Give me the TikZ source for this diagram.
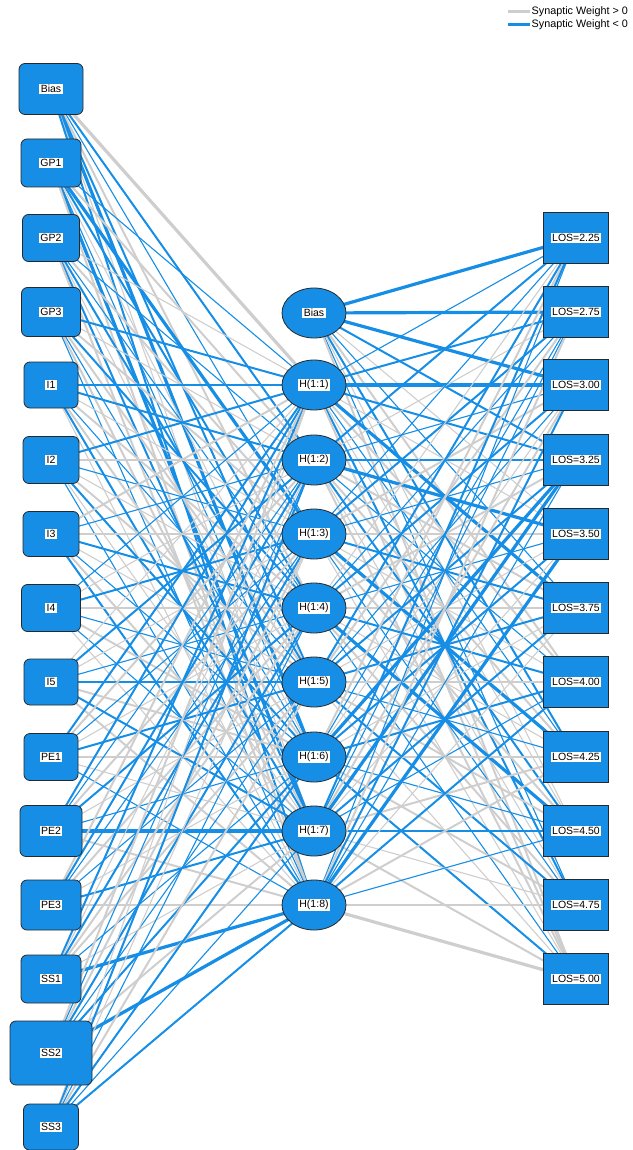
\documentclass[tikz,border=0pt]{standalone}
\usepackage{fontspec}
\setmainfont{Liberation Sans}
\usetikzlibrary{backgrounds,shapes.geometric}
\definecolor{nblue}{RGB}{22,142,230}
\definecolor{pgray}{RGB}{206,206,206}
\definecolor{edgegray}{RGB}{40,40,40}
\newcommand\lab[1]{{\setlength{\fboxsep}{1.3pt}\colorbox{white}{#1}}}
\begin{document}
\begin{tikzpicture}[x=1pt,y=-1pt,
  font=\fontsize{10.5}{12}\selectfont,
  inbox/.style={draw=edgegray,line width=0.8pt,fill=nblue,rounded corners=6pt,inner sep=0pt},
  hidnode/.style={ellipse,draw=edgegray,line width=0.8pt,fill=nblue,minimum width=64pt,minimum height=50pt,inner sep=0pt},
  outbox/.style={draw=edgegray,line width=0.8pt,fill=nblue,minimum width=65pt,minimum height=51pt,inner sep=0pt},
  g1/.style={draw=pgray,line width=1.1pt},
  g2/.style={draw=pgray,line width=2.0pt},
  g3/.style={draw=pgray,line width=3.2pt},
  b1/.style={draw=nblue,line width=1.1pt},
  b2/.style={draw=nblue,line width=2.0pt},
  b3/.style={draw=nblue,line width=3.2pt},
  legline/.style={line width=3pt}]
\useasboundingbox (0,0) rectangle (632,1150);
% input layer
\foreach \n/\t/\y/\w/\h in {0/Bias/89/64/51, 1/GP1/163/60/48, 2/GP2/238/57/47, 3/GP3/312/59/49,
  4/I1/385/54/46, 5/I2/460/56/47, 6/I3/534/56/45, 7/I4/608/59/47, 8/I5/682/54/46,
  9/PE1/757/54/47, 10/PE2/831/62/51, 11/PE3/905/60/50, 12/SS1/979/60/48,
  13/SS2/1053/82/64, 14/SS3/1127/55/46}
  \node[inbox,minimum width=\w pt,minimum height=\h pt] (i\n) at (51,\y) {\lab{\t}};
% hidden layer
\foreach \n/\t/\y in {0/Bias/313, 1/H(1:1)/385, 2/H(1:2)/460, 3/H(1:3)/534, 4/H(1:4)/608,
  5/H(1:5)/682, 6/H(1:6)/757, 7/H(1:7)/831, 8/H(1:8)/905}
  \node[hidnode] (h\n) at (314,\y) {\lab{\t}};
% output layer
\foreach \n/\t/\y in {1/2.25/238, 2/2.75/312, 3/3.00/385, 4/3.25/460, 5/3.50/534, 6/3.75/608,
  7/4.00/682, 8/4.25/757, 9/4.50/831, 10/4.75/905, 11/5.00/979}
  \node[outbox] (o\n) at (576,\y) {\lab{LOS=\t}};
% connections
\begin{pgfonlayer}{background}
\foreach \i/\row in {
  0/{g3,b2,b1,g2,b2,b3,g1,b2},
  1/{b1,g2,b3,b2,g1,b1,b3,g2},
  2/{g1,b1,g2,b1,b2,g1,b2,g2},
  3/{b2,g1,g2,b2,g2,b1,g2,b1},
  4/{b1,b2,g1,g2,b1,g2,b2,g1},
  5/{b2,g2,b1,g1,g2,b2,g1,b1},
  6/{g2,b1,g2,b2,g1,b1,g2,b2},
  7/{b1,g1,b2,g2,b1,g2,b1,g1},
  8/{g1,b2,g1,b1,b1,g2,b2,g2},
  9/{b2,g2,b1,g1,b2,g2,g1,b1},
  10/{b2,b1,g2,b2,g1,b1,b3,g2},
  11/{g2,b2,b1,g2,b1,g1,b2,g1},
  12/{b2,g1,b2,g2,g2,b1,g1,b3},
  13/{g2,b1,g2,b2,b1,b2,g2,b3},
  14/{g1,b2,g1,b1,g2,b2,b1,b2}}
  {\foreach \c [count=\j] in \row {\draw[\c] (i\i.center) -- (h\j.center);}}
\foreach \k/\row in {
  0/{b3,b3,b3,b2,g1,b1,g2,b2,g1,b1,g2},
  1/{b1,b2,b3,b2,g1,b3,g2,b1,g1,b2,g2},
  2/{b2,g1,b1,b2,b3,g2,b1,g2,b2,g1,g2},
  3/{b1,b2,g2,b1,g2,b2,g1,b3,g2,b1,g1},
  4/{g1,b1,b2,g2,b1,g2,b2,g1,b3,g2,b1},
  5/{b2,g2,b1,b2,g1,b2,g2,b1,g2,b2,g1},
  6/{g2,b1,g1,b3,b2,g1,b2,g2,b1,g2,b2},
  7/{b2,b1,g2,b3,g1,b2,b1,g2,b1,g1,g2},
  8/{b1,g2,b2,b1,b3,g1,b2,g2,b1,g1,g3}}
  {\foreach \c [count=\j] in \row {\draw[\c] (h\k.center) -- (o\j.center);}}
\end{pgfonlayer}
% legend
\coordinate (la) at (508,12);
\coordinate (lb) at (530,12);
\coordinate (lc) at (508,25);
\coordinate (ld) at (530,25);
\draw[legline,pgray] (la) -- (lb);
\draw[legline,nblue] (lc) -- (ld);
\node[anchor=west,inner sep=1.5pt,font=\fontsize{10.8}{12}\selectfont] (lt1) at (lb) {Synaptic Weight > 0};
\node[anchor=west,inner sep=1.5pt,font=\fontsize{10.8}{12}\selectfont] (lt2) at (ld) {Synaptic Weight < 0};
\end{tikzpicture}
\end{document}
